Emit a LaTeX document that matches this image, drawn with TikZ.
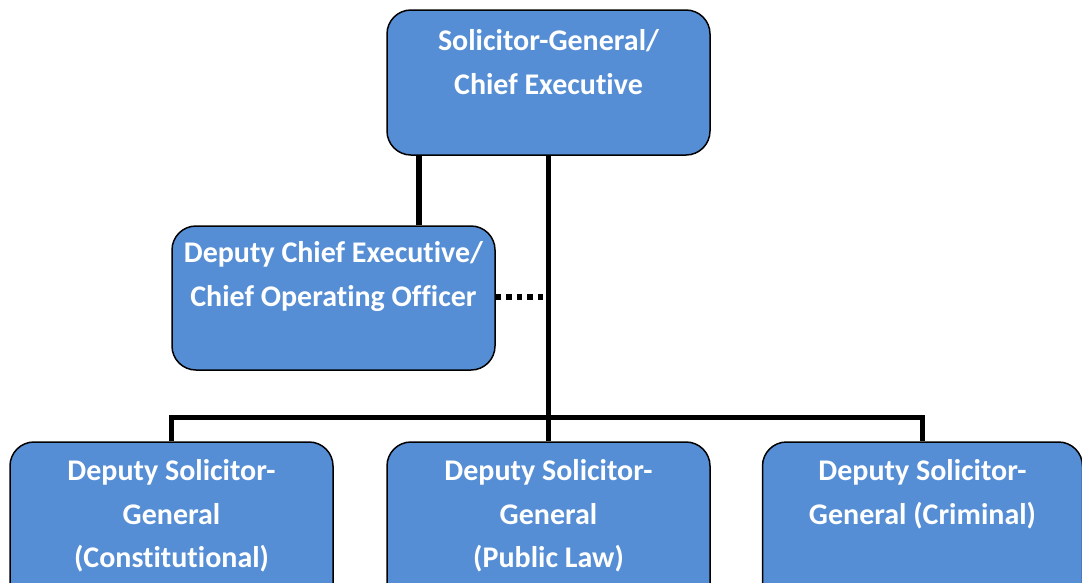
\documentclass[tikz,border=0pt]{standalone}
\usepackage{fontspec}
\setmainfont{Carlito}[Ligatures={NoCommon}]
\definecolor{boxblue}{RGB}{85,142,213}
\begin{document}
\begin{tikzpicture}[x=1pt,y=-1pt,
  box/.style={draw=black, line width=1.5pt, fill=boxblue, rounded corners=24pt, inner sep=0pt},
  lbl/.style={text=white, font=\fontsize{30}{43.5}\selectfont\bfseries, align=center, inner sep=0pt, anchor=north},
  conn/.style={line width=5.5pt, draw=black},
  dotline/.style={line width=5.5pt, draw=black, dash pattern=on 5.5pt off 5pt}]
\useasboundingbox (0,0) rectangle (1082,582);
\clip (0,0) rectangle (1082,582);
% boxes
\node[box, minimum width=323pt, minimum height=145pt] (sg) at (548.5,82.5) {};
\node[box, minimum width=323pt, minimum height=144pt] (dce) at (333.5,298) {};
\node[box, minimum width=323pt, minimum height=170pt] (dsg1) at (171.5,527) {};
\node[box, minimum width=323pt, minimum height=170pt] (dsg2) at (548.5,527) {};
\node[box, minimum width=320pt, minimum height=170pt] (dsg3) at (922.5,527) {};
% labels
\node[lbl] (sgt) at (548.5,29.5) {Solicitor-General/\\Chief Executive};
\node[lbl] (dcet) at (333.5,241.5) {Deputy Chief Executive/\\Chief Operating Officer};
\node[lbl] (dsg1t) at (171.5,459.5) {Deputy Solicitor-\\General\\(Constitutional)};
\node[lbl] (dsg2t) at (548.5,459.5) {Deputy Solicitor-\\General\\(Public Law)};
\node[lbl] (dsg3t) at (922.5,459.5) {Deputy Solicitor-\\General (Criminal)};
% connectors
\coordinate (dceA) at (419,155);
\coordinate (dotR) at (548.5,297);
\coordinate (dotL) at (495,297);
\draw[conn] (sg.south -| dceA) -- (dce.north -| dceA);
\draw[conn] (sg.south) -- (dsg2.north);
\draw[conn] (dsg1.north) -- ++(0,-24) -| (dsg3.north);
\draw[dotline] (dce.east |- dotL) -- (dotR);
\end{tikzpicture}
\end{document}
